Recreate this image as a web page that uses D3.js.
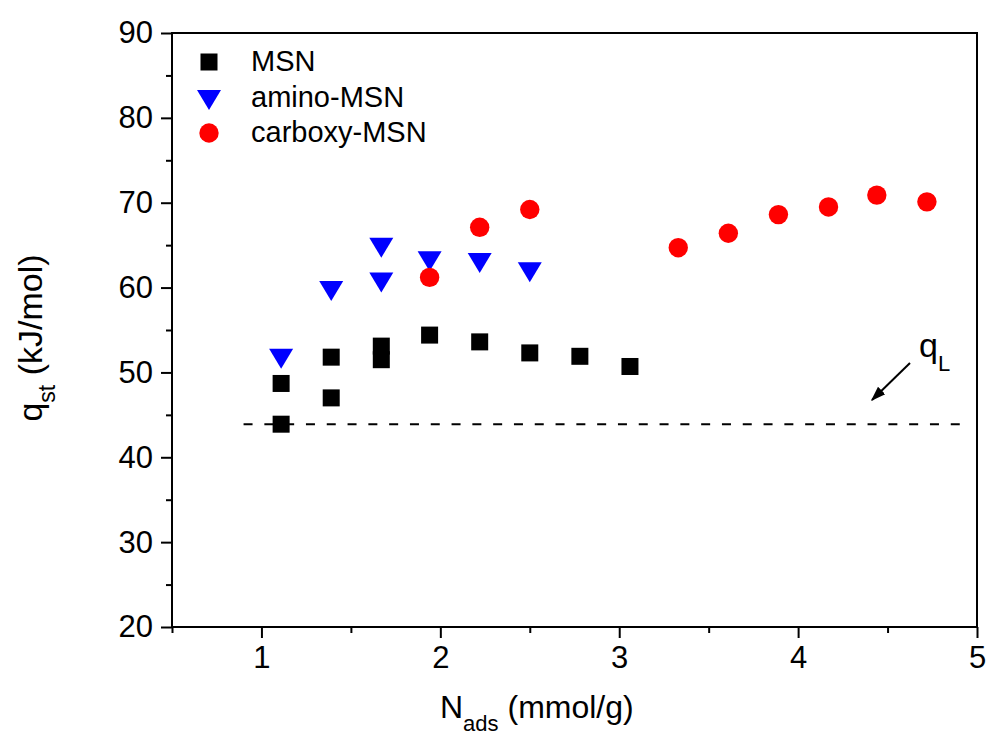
<!DOCTYPE html>
<html>
<head>
<script src="https://cdn.jsdelivr.net/npm/d3@7/dist/d3.min.js"></script>
<style>
  body { margin: 0; background: #fff; font-family: "Liberation Sans", Arial, sans-serif; }
</style>
</head>
<body>
<svg id="chart" width="992" height="740"></svg>
<script>
// data
var msnX = [1.11, 1.11, 1.39, 1.39, 1.67, 1.67, 1.94, 2.22, 2.5, 2.78, 3.06];
var msnY = [48.7, 43.9, 51.8, 47.0, 53.1, 51.5, 54.4, 53.6, 52.3, 51.9, 50.7];
var aminoX = [1.11, 1.39, 1.67, 1.67, 1.94, 2.22, 2.5];
var aminoY = [51.6, 59.6, 64.7, 60.6, 63.1, 62.9, 61.8];
var carbX = [1.94, 2.22, 2.5, 3.33, 3.61, 3.89, 4.17, 4.44, 4.72];
var carbY = [61.2, 67.1, 69.2, 64.7, 66.4, 68.6, 69.5, 70.9, 70.1];
var qL = 43.9;
var qLRange = [0.9, 4.92];
var xMajor = [1, 2, 3, 4, 5];
var xMinor = [0.5, 1.5, 2.5, 3.5, 4.5];
var yMajor = [20, 30, 40, 50, 60, 70, 80, 90];
var yMinor = [25, 35, 45, 55, 65, 75, 85];
var seriesNames = ["MSN", "amino-MSN", "carboxy-MSN"];

var svg = d3.select("#chart");
var mLeft = 172, mRight = 977, mTop = 33, mBottom = 627;
var x = d3.scaleLinear().domain([0.5, 5]).range([mLeft, mRight]);
var y = d3.scaleLinear().domain([20, 90]).range([mBottom, mTop]);
var font = "'Liberation Sans', Arial, sans-serif";

// axes
function styleAxis(g) {
  g.select(".domain").remove();
  g.selectAll(".tick line").attr("stroke", "#000").attr("stroke-width", 2);
  g.selectAll(".tick text").attr("font-family", font).attr("font-size", 31).attr("fill", "#000");
}
svg.append("g").attr("transform", "translate(0," + mBottom + ")")
  .call(d3.axisBottom(x).tickValues(xMajor).tickSize(11).tickPadding(8).tickFormat(d3.format("d")))
  .call(styleAxis);
svg.append("g").attr("transform", "translate(0," + mBottom + ")")
  .call(d3.axisBottom(x).tickValues(xMinor).tickSize(6).tickFormat(""))
  .call(styleAxis);
svg.append("g").attr("transform", "translate(" + mLeft + ",0)")
  .call(d3.axisLeft(y).tickValues(yMajor).tickSize(11).tickPadding(8).tickFormat(d3.format("d")))
  .call(styleAxis);
svg.append("g").attr("transform", "translate(" + mLeft + ",0)")
  .call(d3.axisLeft(y).tickValues(yMinor).tickSize(6).tickFormat(""))
  .call(styleAxis);

// frame
svg.append("rect").attr("x", mLeft).attr("y", mTop)
  .attr("width", mRight - mLeft).attr("height", mBottom - mTop)
  .attr("fill", "none").attr("stroke", "#000").attr("stroke-width", 2);

// q_L dashed line
svg.append("line")
  .attr("x1", x(qLRange[0])).attr("x2", x(qLRange[1]))
  .attr("y1", y(qL)).attr("y2", y(qL))
  .attr("stroke", "#000").attr("stroke-width", 2).attr("stroke-dasharray", "9,11.8");

// arrow + label
svg.append("defs").append("marker")
  .attr("id", "ah").attr("viewBox", "0 0 10 10").attr("refX", 9).attr("refY", 5)
  .attr("markerWidth", 7.5).attr("markerHeight", 7.5).attr("markerUnits", "strokeWidth")
  .attr("orient", "auto")
  .append("path").attr("d", "M0,1.5 L10,5 L0,8.5 Z").attr("fill", "#000");
svg.append("line")
  .attr("x1", 910).attr("y1", 363).attr("x2", 872).attr("y2", 400)
  .attr("stroke", "#000").attr("stroke-width", 2).attr("marker-end", "url(#ah)");
var ql = svg.append("text").attr("x", 919).attr("y", 357)
  .attr("font-family", font).attr("font-size", 34);
ql.append("tspan").text("q");
ql.append("tspan").attr("dy", 14).attr("font-size", 22).text("L");

// series
var triPath = "M-12,-10 L12,-10 L0,10 Z";
svg.append("g").selectAll("rect").data(d3.range(msnX.length)).join("rect")
  .attr("x", function(i) { return x(msnX[i]) - 8.5; })
  .attr("y", function(i) { return y(msnY[i]) - 8.5; })
  .attr("width", 17).attr("height", 17).attr("fill", "#000");
svg.append("g").selectAll("path").data(d3.range(aminoX.length)).join("path")
  .attr("d", triPath)
  .attr("transform", function(i) { return "translate(" + x(aminoX[i]) + "," + y(aminoY[i]) + ")"; })
  .attr("fill", "#0000ff");
svg.append("g").selectAll("circle").data(d3.range(carbX.length)).join("circle")
  .attr("cx", function(i) { return x(carbX[i]); })
  .attr("cy", function(i) { return y(carbY[i]); })
  .attr("r", 9.7).attr("fill", "#ff0000");

// legend
var lg = svg.append("g");
lg.append("rect").attr("x", 209 - 8.5).attr("y", 62 - 8.5).attr("width", 17).attr("height", 17).attr("fill", "#000");
lg.append("path").attr("d", triPath).attr("transform", "translate(209,100)").attr("fill", "#0000ff");
lg.append("circle").attr("cx", 209).attr("cy", 133).attr("r", 9.7).attr("fill", "#ff0000");
lg.selectAll("text").data(seriesNames).join("text")
  .attr("x", 251).attr("y", function(d, i) { return [71, 107, 142][i]; })
  .attr("font-family", font).attr("font-size", 29).text(function(d) { return d; });

// axis titles
var xt = svg.append("text").attr("x", 440).attr("y", 718)
  .attr("font-family", font).attr("font-size", 32);
xt.append("tspan").text("N");
xt.append("tspan").attr("dy", 13).attr("font-size", 22).text("ads");
xt.append("tspan").attr("dy", -13).text(" (mmol/g)");

var yt = svg.append("text").attr("transform", "translate(42,338) rotate(-90)")
  .attr("text-anchor", "middle").attr("font-family", font).attr("font-size", 34);
yt.append("tspan").text("q");
yt.append("tspan").attr("dy", 13).attr("font-size", 23).text("st");
yt.append("tspan").attr("dy", -13).text(" (kJ/mol)");
</script>
</body>
</html>
